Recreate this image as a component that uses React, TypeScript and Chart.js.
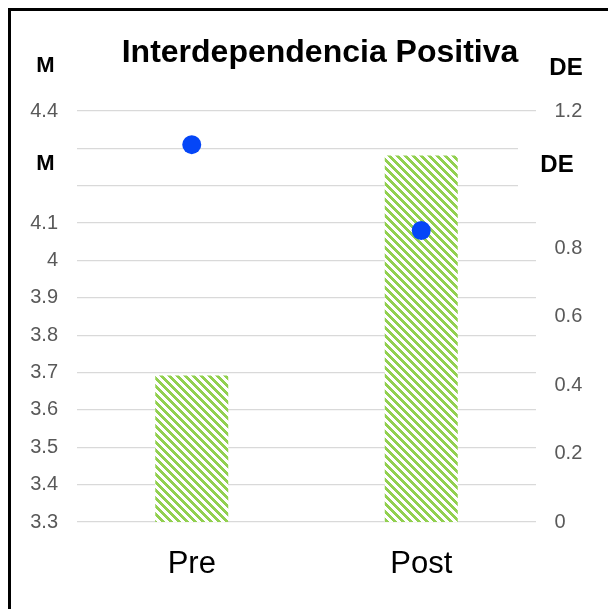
import React, { useEffect, useRef } from 'react';
import { Chart, registerables } from 'chart.js';

Chart.register(...registerables);

// ---- data ----
const categories = ['Pre', 'Post'];
const meanValues = [4.31, 4.08]; // M (left axis) – points
const sdValues = [0.428, 1.07]; // DE (right axis) – bars
const leftTickValues = [3.3, 3.4, 3.5, 3.6, 3.7, 3.8, 3.9, 4.0, 4.1, 4.2, 4.3, 4.4];
const leftTickLabels = ['3.3', '3.4', '3.5', '3.6', '3.7', '3.8', '3.9', '4', '4.1', '', '', '4.4'];
const rightTickValues = [0, 0.2, 0.4, 0.6, 0.8, 1.0, 1.2];
const rightTickLabels = ['0', '0.2', '0.4', '0.6', '0.8', '', '1.2'];
const chartTitle = 'Interdependencia Positiva';
const leftAxisTitle = 'M';
const rightAxisTitle = 'DE';

const FAMILY = '"Liberation Sans", Arial, Helvetica, sans-serif';
const W = 600;
const H = 601;

function labelFor(values: number[], labels: string[], v: number): string {
  const i = values.findIndex((t) => Math.abs(t - v) < 1e-6);
  return i >= 0 ? labels[i] : '';
}

function makeHatch(): CanvasPattern | string {
  const c = document.createElement('canvas');
  c.width = 8;
  c.height = 8;
  const g = c.getContext('2d');
  if (!g) return '#92D050';
  g.fillStyle = '#ffffff';
  g.fillRect(0, 0, 8, 8);
  g.fillStyle = '#92D050';
  for (let y = 0; y < 8; y++) {
    for (let x = 0; x < 8; x++) {
      if ((((x - y) % 8) + 8) % 8 < 4) g.fillRect(x, y, 1, 1);
    }
  }
  const p = g.createPattern(c, 'repeat');
  return p || '#92D050';
}

const decorPlugin = {
  id: 'decor',
  beforeDraw(chart: any) {
    const ctx = chart.ctx;
    ctx.save();
    ctx.fillStyle = '#ffffff';
    ctx.fillRect(0, 0, chart.width, chart.height);
    ctx.restore();
  },
  beforeDatasetsDraw(chart: any) {
    // white box behind the inner "DE" label that interrupts the grid lines
    const ctx = chart.ctx;
    const ca = chart.chartArea;
    const y = chart.scales.y;
    const top = y.getPixelForValue(4.3) - 4;
    const bottom = y.getPixelForValue(4.2) + 4;
    ctx.save();
    ctx.fillStyle = '#ffffff';
    ctx.fillRect(ca.right - 18, top, 22, bottom - top);
    ctx.restore();
  },
  afterDraw(chart: any) {
    const ctx = chart.ctx;
    ctx.save();
    // frame (left + top border)
    ctx.fillStyle = '#000000';
    ctx.fillRect(0, 0, 3, chart.height);
    ctx.fillRect(0, 0, chart.width, 3);

    ctx.textBaseline = 'alphabetic';
    ctx.textAlign = 'center';
    ctx.fillStyle = '#000000';
    ctx.font = `bold 32px ${FAMILY}`;
    ctx.fillText(chartTitle, 312, 54);

    ctx.font = `bold 22px ${FAMILY}`;
    ctx.fillText(leftAxisTitle, 37.5, 63.5);
    ctx.fillText(leftAxisTitle, 37.5, 162);

    ctx.font = `bold 24px ${FAMILY}`;
    ctx.fillText(rightAxisTitle, 558, 67);
    ctx.fillText(rightAxisTitle, 549, 164);
    ctx.restore();
  },
};

export default function App() {
  const ref = useRef<HTMLCanvasElement | null>(null);

  useEffect(() => {
    const canvas = ref.current;
    if (!canvas) return;
    const hatch = makeHatch();
    const chart = new Chart(canvas, {
      type: 'bar',
      data: {
        labels: categories,
        datasets: [
          {
            type: 'line',
            label: leftAxisTitle,
            data: meanValues,
            yAxisID: 'y',
            showLine: false,
            pointRadius: 9.5,
            pointHoverRadius: 9.5,
            pointBackgroundColor: '#0546F7',
            pointBorderColor: '#0546F7',
            pointBorderWidth: 0,
            order: 0,
          } as any,
          {
            type: 'bar',
            label: rightAxisTitle,
            data: sdValues,
            yAxisID: 'y2',
            backgroundColor: hatch as any,
            borderWidth: 0,
            barPercentage: 1,
            categoryPercentage: 0.318,
            order: 1,
          } as any,
        ],
      },
      options: {
        responsive: false,
        animation: false,
        devicePixelRatio: 1,
        layout: { padding: { top: 103, left: 0, right: 0, bottom: 0 } },
        plugins: {
          legend: { display: false },
          tooltip: { enabled: false },
          title: { display: false },
        },
        scales: {
          x: {
            grid: { display: false },
            border: { display: false },
            ticks: {
              color: '#000000',
              font: { size: 31, family: FAMILY },
              padding: 16,
            },
            afterFit: (s: any) => {
              s.height = 87;
            },
          },
          y: {
            position: 'left',
            min: 3.3,
            max: 4.4,
            afterBuildTicks: (s: any) => {
              s.ticks = leftTickValues.map((v) => ({ value: v }));
            },
            afterFit: (s: any) => {
              s.width = 69;
            },
            ticks: {
              autoSkip: false,
              color: '#595959',
              font: { size: 20, family: FAMILY },
              padding: 19,
              callback: (v: any) => labelFor(leftTickValues, leftTickLabels, Number(v)),
            },
            grid: { color: '#D9D9D9', lineWidth: 1.3, drawTicks: false },
            border: { display: false },
          },
          y2: {
            position: 'right',
            min: 0,
            max: 1.2,
            afterBuildTicks: (s: any) => {
              s.ticks = rightTickValues.map((v) => ({ value: v }));
            },
            afterFit: (s: any) => {
              s.width = 72;
            },
            ticks: {
              autoSkip: false,
              color: '#595959',
              font: { size: 20, family: FAMILY },
              padding: 18.5,
              callback: (v: any) => labelFor(rightTickValues, rightTickLabels, Number(v)),
            },
            grid: { display: false, drawTicks: false },
            border: { display: false },
          },
        },
      } as any,
      plugins: [decorPlugin],
    });
    return () => chart.destroy();
  }, []);

  return (
    <div style={{ position: 'fixed', left: 8, top: 8, width: W, height: H }}>
      <canvas ref={ref} width={W} height={H} style={{ display: 'block', width: W, height: H }} />
    </div>
  );
}
